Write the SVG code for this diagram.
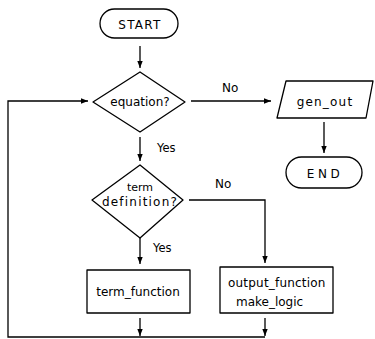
<svg xmlns="http://www.w3.org/2000/svg" width="375" height="339" viewBox="0 0 375 339">
<style>
.s{fill:none;stroke:#000;stroke-width:1.3;stroke-linejoin:round}
.c{fill:none;stroke:#000;stroke-width:1.3}
.t{font-family:"DejaVu Sans",sans-serif;font-size:12px;fill:#000}
.m{text-anchor:middle}
</style>
<defs>
<marker id="ah" markerWidth="8" markerHeight="8" viewBox="0 0 8 8" refX="7" refY="4" orient="auto" markerUnits="userSpaceOnUse">
<path d="M0,1.3 L7,4 L0,6.7 Z" fill="#000"/>
</marker>
</defs>
<rect width="375" height="339" fill="#fff"/>
<g id="connectors">
<line class="c" x1="140" y1="46" x2="140" y2="68" marker-end="url(#ah)"/>
<line class="c" x1="191" y1="101" x2="271" y2="101" marker-end="url(#ah)"/>
<line class="c" x1="324" y1="122" x2="324" y2="153" marker-end="url(#ah)"/>
<line class="c" x1="140" y1="137" x2="140" y2="161" marker-end="url(#ah)"/>
<polyline class="c" points="189,200 265,200 265,263" marker-end="url(#ah)"/>
<line class="c" x1="140" y1="238" x2="140" y2="264" marker-end="url(#ah)"/>
<line class="c" x1="140" y1="318" x2="140" y2="336" marker-end="url(#ah)"/>
<line class="c" x1="265" y1="318" x2="265" y2="336" marker-end="url(#ah)"/>
<polyline class="c" points="265,337 8,337 8,101 88,101" marker-end="url(#ah)"/>
<text class="t" x="222" y="92" font-size="12">No</text>
<text class="t" x="157" y="152" style="font-size:11.5px">Yes</text>
<text class="t" x="215" y="188">No</text>
<text class="t" x="153" y="252" style="font-size:11.5px">Yes</text>
</g>
<g id="start">
<rect class="s" x="100" y="9" width="78" height="29" rx="14.5"/>
<text class="t m" x="140" y="29" letter-spacing="1.3">START</text>
</g>
<g id="equation">
<polygon class="s" points="140,72 185,102 140,132 93,102"/>
<text class="t m" x="140" y="106">equation?</text>
</g>
<g id="gen_out">
<polygon class="s" points="286,81 373,81 366,118 277,118"/>
<text class="t m" x="325" y="106" letter-spacing="1.2">gen_out</text>
</g>
<g id="end">
<rect class="s" x="286" y="157" width="76" height="31" rx="15.5"/>
<text class="t m" x="325" y="178" letter-spacing="3.5">END</text>
</g>
<g id="term_definition">
<polygon class="s" points="140,165 183,200 140,238 92,200"/>
<text class="t m" x="140" y="191" style="font-size:11px">term</text>
<text class="t m" x="140" y="206" letter-spacing="1.2">definition?</text>
</g>
<g id="term_function">
<rect class="s" x="87" y="270" width="103" height="43"/>
<text class="t m" x="138" y="296">term_function</text>
</g>
<g id="output_function">
<rect class="s" x="220" y="267" width="113" height="46"/>
<text class="t" x="228" y="287" letter-spacing="0.2">output_function</text>
<text class="t" x="236" y="306">make_logic</text>
</g>
</svg>
